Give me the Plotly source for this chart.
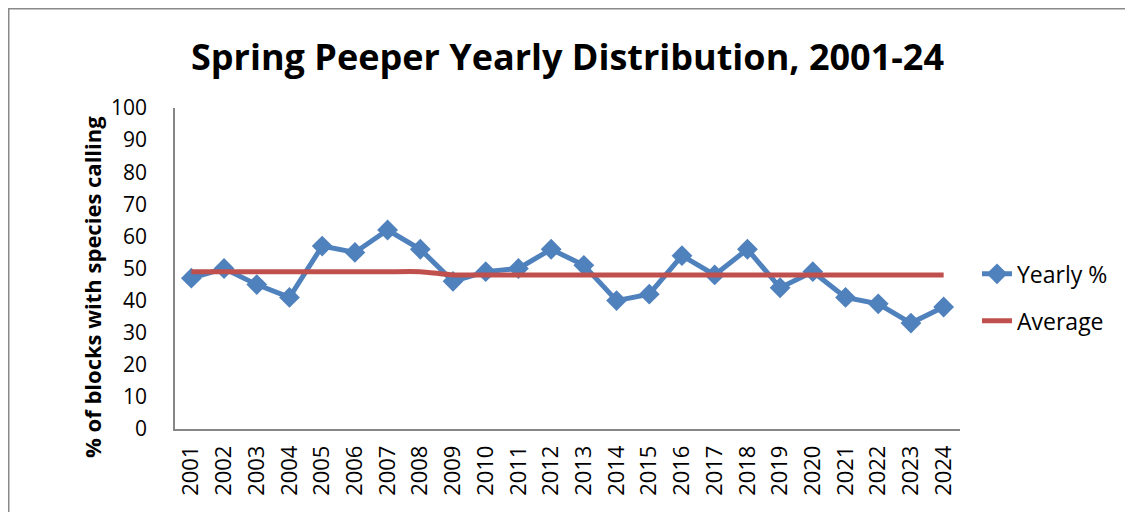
import plotly.graph_objects as go

years = [str(y) for y in range(2001, 2025)]
yearly_pct = [47, 50, 45, 41, 57, 55, 62, 56, 46, 49, 50, 56, 51, 40, 42, 54, 48, 56, 44, 49, 41, 39, 33, 38]
average = [49, 49, 49, 49, 49, 49, 49, 49, 48, 48, 48, 48, 48, 48, 48, 48, 48, 48, 48, 48, 48, 48, 48, 48]
y_ticks = list(range(0, 101, 10))

FONT = "Open Sans"
BLUE = "#4F81BD"
RED = "#C0504D"

# layout geometry (figure pixels)
ML, MT, PW, PH = 167, 100, 785, 321
W, H = 1133, 512

fig = go.Figure()
fig.add_trace(go.Scatter(
    x=years, y=yearly_pct, name="Yearly %", mode="lines+markers",
    line=dict(color=BLUE, width=5),
    marker=dict(symbol="diamond", size=16, color=BLUE),
    legendgroup="a",
))
fig.add_trace(go.Scatter(
    x=years, y=average, name="Average", mode="lines",
    line=dict(color=RED, width=5, shape="spline", smoothing=0.6),
    legendgroup="b",
))

fig.update_layout(
    width=W, height=H,
    margin=dict(l=ML, r=W - ML - PW, t=MT, b=H - MT - PH),
    paper_bgcolor="white", plot_bgcolor="white",
    font=dict(family=FONT, size=21, color="black"),
    title=dict(
        text="<b>Spring Peeper Yearly Distribution, 2001-24</b>",
        x=0.5, xanchor="center", xref="paper",
        y=1 - 49 / H, yanchor="middle", yref="container",
        font=dict(family=FONT, size=36, color="black"),
    ),
    xaxis=dict(
        type="category", range=[-0.5, 23.5],
        showgrid=False, zeroline=False,
        showline=True, linecolor="#868686", linewidth=1.5,
        ticks="", tickangle=-90, tickfont=dict(size=22),
        ticklabelstandoff=6,
    ),
    yaxis=dict(
        range=[0, 100], tickvals=y_ticks,
        showgrid=False, zeroline=False,
        showline=True, linecolor="#868686", linewidth=1.5,
        ticks="", tickfont=dict(size=21),
        ticklabelstandoff=22,
    ),
    annotations=[
        dict(text="<b>% of blocks with species calling</b>",
             textangle=-90, xref="paper", yref="paper",
             x=(84 - ML) / PW, y=(MT + PH - 279) / PH,
             xanchor="center", yanchor="middle", showarrow=False,
             font=dict(family=FONT, size=22, color="black")),
    ],
    legend=dict(
        x=(969 - ML) / PW, xanchor="left", y=0.41, yanchor="middle",
        font=dict(size=23), tracegroupgap=14,
        bgcolor="rgba(0,0,0,0)",
    ),
    showlegend=True,
    shapes=[
        dict(type="rect", xref="paper", yref="paper",
             x0=(0.75 - ML) / PW, x1=1.4, y0=-0.4, y1=(MT + PH - 0.75) / PH,
             line=dict(color="#898989", width=1.5), fillcolor="rgba(0,0,0,0)",
             layer="below"),
    ],
)

fig.write_html("out.html")
